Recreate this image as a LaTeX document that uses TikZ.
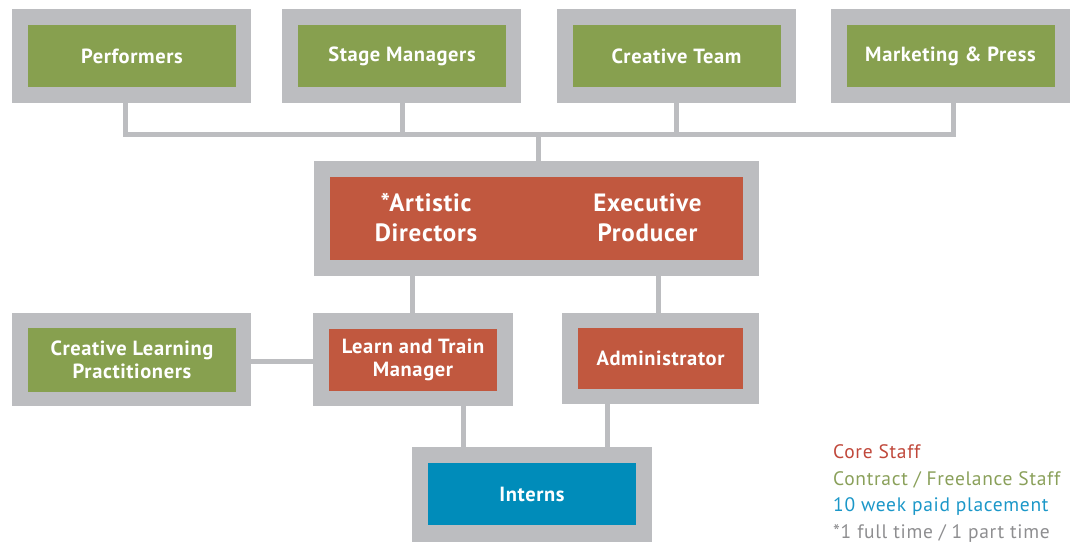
\documentclass[tikz,border=0pt]{standalone}
\usepackage{fontspec}
\setmainfont{PT Sans}
\newfontfamily\boxfont{PT Sans}[LetterSpace=3]
\newfontfamily\legfont{PT Sans}[LetterSpace=3.5]
\definecolor{frame}{HTML}{BCBDC0}
\definecolor{grn}{HTML}{87A04F}
\definecolor{rd}{HTML}{C1583F}
\definecolor{blu}{HTML}{008CBA}
\definecolor{lrd}{HTML}{C0473A}
\definecolor{lgrn}{HTML}{8AA05A}
\definecolor{lblu}{HTML}{1B97C8}
\definecolor{lgry}{HTML}{8E8E90}
\tikzset{
  outerbox/.style={fill=frame, draw=none, inner sep=0pt, outer sep=0pt},
  innerbox/.style={draw=none, inner sep=0pt, outer sep=0pt, text=white, align=center,
    font=\boxfont\bfseries\fontsize{20.5bp}{22.5bp}\selectfont},
  bigtext/.style={innerbox, font=\boxfont\bfseries\fontsize{25bp}{30bp}\selectfont},
  conn/.style={draw=frame, line width=5bp, line join=miter},
  legend/.style={anchor=base west, inner sep=0pt, font=\legfont\fontsize{19.5bp}{22bp}\selectfont},
}
\begin{document}
\begin{tikzpicture}[x=1bp, y=-1bp]
\useasboundingbox (0,0) rectangle (1076,542);
% top row
\node[outerbox, minimum width=239bp, minimum height=94bp] (perf) at (131.5,56) {};
\node[innerbox, fill=grn, minimum width=208bp, minimum height=62bp] (perfin) at (132,56) {Performers};
\node[outerbox, minimum width=239bp, minimum height=94bp] (stage) at (401.5,56) {};
\node[innerbox, fill=grn, minimum width=208bp, minimum height=62bp] (stagein) at (402,56) {Stage Managers};
\node[outerbox, minimum width=239bp, minimum height=94bp] (ct) at (676.5,56) {};
\node[innerbox, fill=grn, minimum width=208bp, minimum height=62bp] (ctin) at (676.5,56) {Creative Team};
\node[outerbox, minimum width=239bp, minimum height=94bp] (mkt) at (950.5,56) {};
\node[innerbox, fill=grn, minimum width=208bp, minimum height=62bp] (mktin) at (950.5,56) {Marketing \& Press};
% center
\node[outerbox, minimum width=445bp, minimum height=115bp] (adir) at (536.5,218.5) {};
\node[innerbox, fill=rd, minimum width=413bp, minimum height=83bp] (adirin) at (536.5,218.5) {};
\node[bigtext] (ad) at (426,217.5) {*Artistic\\Directors};
\node[bigtext] (ep) at (647.5,217.5) {Executive\\Producer};
% second row
\node[outerbox, minimum width=239bp, minimum height=93bp] (clp) at (131.5,359.5) {};
\node[innerbox, fill=grn, minimum width=208bp, minimum height=63bp] (clpin) at (132,360) {Creative Learning\\Practitioners};
\node[outerbox, minimum width=200bp, minimum height=93bp] (lt) at (413,359.5) {};
\node[innerbox, fill=rd, minimum width=168bp, minimum height=62bp] (ltin) at (413,360) {Learn and Train\\Manager};
\node[outerbox, minimum width=197bp, minimum height=91bp] (adm) at (660.5,358.5) {};
\node[innerbox, fill=rd, minimum width=165bp, minimum height=61bp] (admin) at (660.5,358.5) {Administrator};
% interns
\node[outerbox, minimum width=240bp, minimum height=95bp] (int) at (532,494.5) {};
\node[innerbox, fill=blu, minimum width=208bp, minimum height=62bp] (intin) at (532,494) {Interns};
% connectors
\coordinate (busL) at (125,135);
\coordinate (busR) at (953,135);
\coordinate (cA) at (412.5,0);
\coordinate (cB) at (658,0);
\coordinate (cC) at (463,0);
\coordinate (cD) at (607,0);
\coordinate (cE) at (0,362);
\draw[conn] (perf.south -| busL) -- (busL) -- (busR) -- (mkt.south -| busR);
\draw[conn] ([xshift=1bp]stage.south) -- ([xshift=1bp]stage.south |- busL);
\draw[conn] (ct.south) -- (ct.south |- busL);
\draw[conn] ([xshift=1.5bp]adir.north) -- ([xshift=1.5bp]adir.north |- busL);
\draw[conn] (adir.south -| cA) -- (lt.north -| cA);
\draw[conn] (adir.south -| cB) -- (adm.north -| cB);
\draw[conn] (clp.east |- cE) -- (lt.west |- cE);
\draw[conn] (lt.south -| cC) -- (int.north -| cC);
\draw[conn] (adm.south -| cD) -- (int.north -| cD);
% legend
\node[legend, text=lrd] (l1) at (833,458) {Core Staff};
\node[legend, text=lgrn] (l2) at (833,485) {Contract / Freelance Staff};
\node[legend, text=lblu] (l3) at (833,511.5) {10 week paid placement};
\node[legend, text=lgry] (l4) at (833,538) {*1 full time / 1 part time};
\end{tikzpicture}
\end{document}
